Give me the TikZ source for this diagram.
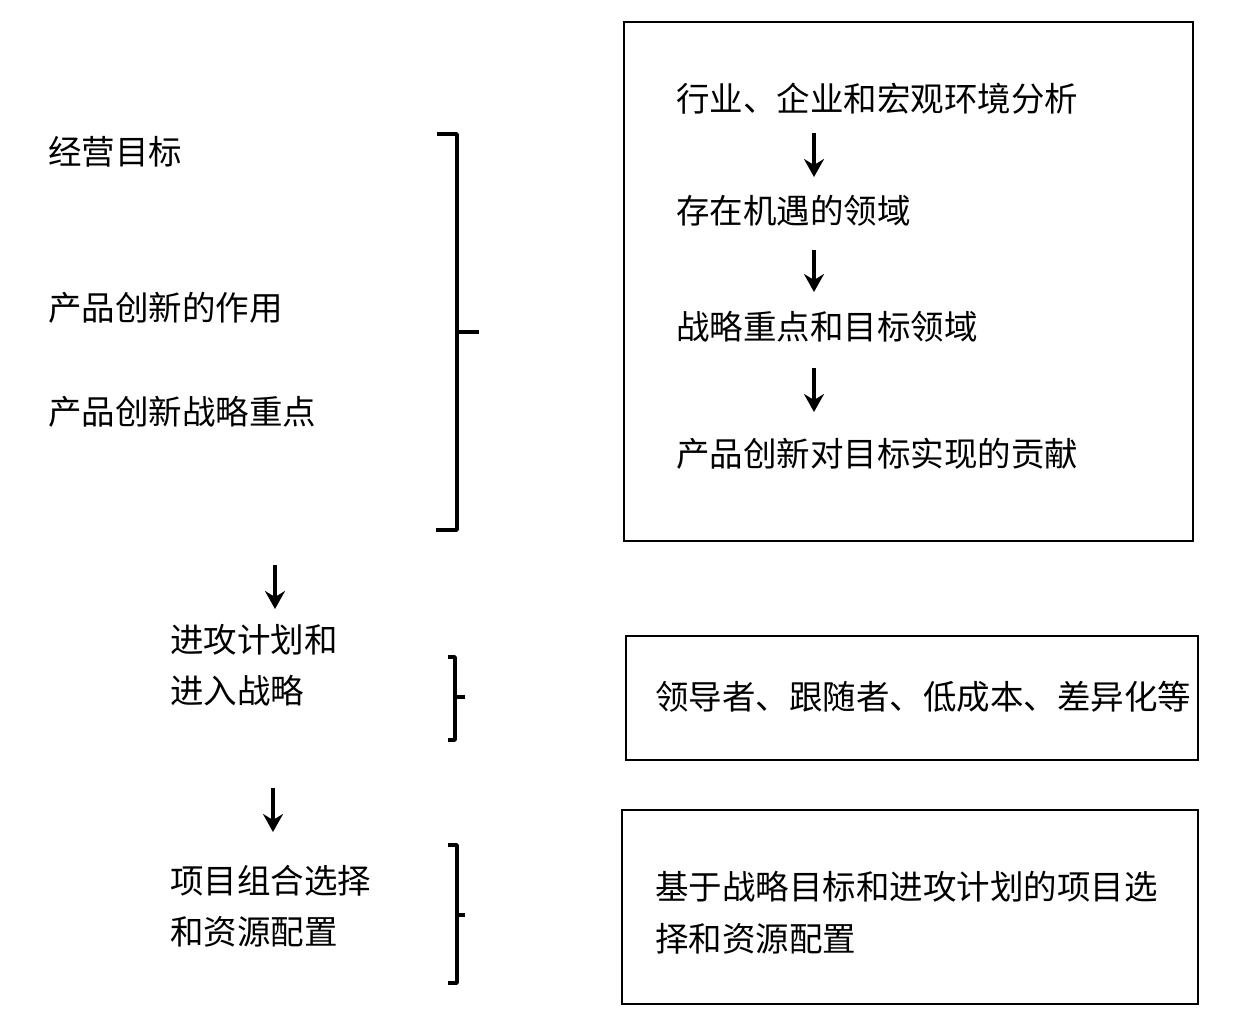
\documentclass[tikz,border=0pt]{standalone}
\usepackage{fontspec}
\newfontfamily\cjk{Noto Sans CJK SC}
\usetikzlibrary{arrows.meta}
\begin{document}
\begin{tikzpicture}[x=1pt,y=-1pt,
  txt/.style={anchor=west,inner sep=0pt,font=\cjk\fontsize{33.5}{40}\selectfont,text height=28pt,text depth=5pt},
  box/.style={draw,line width=2.6pt},
  brk/.style={draw,line width=3.5pt,line join=round},
  arr/.style={line width=3.2pt,-{Stealth[length=18pt,width=20pt,inset=6pt]}}]
\useasboundingbox (0,0) rectangle (1241,1026);
% box 1
\draw[box] (624,22) rectangle (1193,541);
\node[txt] (r1) at (676,100) {行业、企业和宏观环境分析};
\node[txt] (r2) at (676,212) {存在机遇的领域};
\node[txt] (r3) at (676,328) {战略重点和目标领域};
\node[txt] (r4) at (676,455) {产品创新对目标实现的贡献};
\coordinate (a1s) at (814,133); \coordinate (a1e) at (814,177);
\coordinate (a2s) at (814,250); \coordinate (a2e) at (814,292);
\coordinate (a3s) at (814,368); \coordinate (a3e) at (814,412);
\draw[arr] (a1s) -- (a1e);
\draw[arr] (a2s) -- (a2e);
\draw[arr] (a3s) -- (a3e);
% left column
\node[txt] (l1) at (48,153) {经营目标};
\node[txt] (l2) at (48,309) {产品创新的作用};
\node[txt] (l3) at (48,413) {产品创新战略重点};
\draw[brk] (437,134) -- (457,134) -- (457,530) -- (436,530);
\draw[brk] (457,332) -- (479,332);
\coordinate (la1s) at (275,565); \coordinate (la1e) at (275,609);
\draw[arr] (la1s) -- (la1e);
\node[txt] (l4) at (170,641) {进攻计划和};
\node[txt] (l5) at (170,692) {进入战略};
\draw[brk] (448,657) -- (455,657) -- (455,740) -- (448,740);
\draw[brk] (455,697) -- (465,697);
\draw[box] (626,636) rectangle (1198,760);
\node[txt] (m1) at (655,698) {领导者、跟随者、低成本、差异化等};
\coordinate (la2s) at (273,788); \coordinate (la2e) at (273,832);
\draw[arr] (la2s) -- (la2e);
\node[txt] (l6) at (170,882) {项目组合选择};
\node[txt] (l7) at (170,933) {和资源配置};
\draw[brk] (448,845) -- (457,845) -- (457,983) -- (448,983);
\draw[brk] (457,915) -- (465,915);
\draw[box] (622,810) rectangle (1198,1004);
\node[txt] (n1) at (655,888) {基于战略目标和进攻计划的项目选};
\node[txt] (n2) at (655,940) {择和资源配置};
\end{tikzpicture}
\end{document}
